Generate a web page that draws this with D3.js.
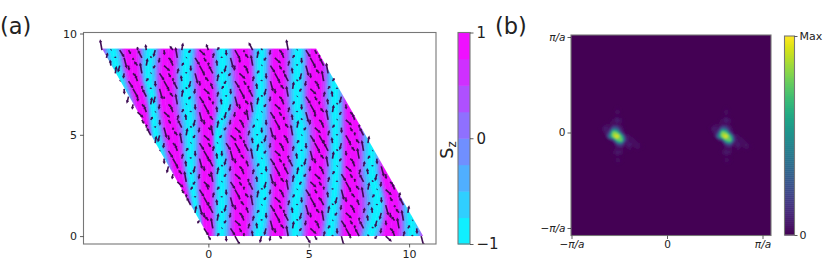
<!DOCTYPE html>
<html>
<head>
<meta charset="utf-8">
<script src="https://cdn.jsdelivr.net/npm/d3@7"></script>
<style>
    body { margin: 0; background: #fff; }
    text { font-family: "DejaVu Sans"; fill: #222; }
</style>
</head>
<body>
<svg id="fig" width="830" height="275"></svg>
<script>
var stripe_y = [9.26, 7.93, 6.7, 4.98, 3.25, 1.53, 0];

// x of each stripe centre at those rows, left to right. Even = magenta (Sz=+1), odd = cyan (Sz=-1)
var stripe_x = [
    [-5.67, -5.37, -4.98, -4.63, -4.28, -3.88, -3.53],
    [-4.78, -4.48, -4.13, -3.78, -3.38, -2.99, -2.64],
    [-3.88, -3.73, -3.38, -3.13, -2.89, -2.39, -1.89],
    [-2.89, -2.99, -2.79, -2.64, -2.14, -1.64, -1.14],
    [-1.99, -2.04, -2.14, -1.79, -1.54, -1.14, -0.80],
    [-1.04, -1.14, -1.04, -0.90, -0.90, -0.65, -0.40],
    [-0.15, -0.15, -0.05, 0, -0.05, -0.15, -0.05],
    [0.70, 0.70, 0.85, 0.45, 0.60, 0.65, 0.60],
    [1.69, 1.84, 1.84, 1.44, 1.59, 1.59, 1.59],
    [2.64, 2.59, 2.59, 2.44, 2.74, 2.74, 2.49],
    [3.48, 3.48, 3.48, 3.68, 3.58, 3.48, 3.48],
    [4.48, 4.43, 4.43, 4.58, 4.58, 4.33, 4.33],
    [5.37, 5.37, 5.32, 5.67, 5.42, 5.42, 5.22],
    [6.32, 6.32, 6.32, 6.32, 6.37, 6.22, 6.07],
    [7.16, 7.16, 7.16, 7.16, 7.06, 7.06, 7.06],
    [8.16, 8.16, 8.16, 8.16, 8.16, 8.46, 8.06],
    [9.05, 9.05, 9.05, 9.05, 8.91, 9.20, 9.05],
    [10.05, 10.05, 10.05, 10.05, 10.05, 10.05, 10.20],
    [11.04, 11.04, 11.04, 11.04, 11.04, 11.04, 11.04]
];

// outline of the sample
var sample_corners = [[-5.3, 9.26], [5.37, 9.26], [10.7, 0], [0, 0]];

// contour levels of the colour bar, and where each one sits between
// a magenta centre (0) and a cyan centre (1)
var sz_levels = [-1, -0.75, -0.5, -0.25, 0, 0.25, 0.5, 0.75, 1];
var level_position = [1, 0.82, 0.7, 0.62, 0.56, 0.5, 0.42, 0.3, 0];

// spin arrow per phase of the stripe (0 = magenta centre, .5 = cyan centre)
// clockwise degrees from up
var arrow_angle = [150, -20, -10, 10, 20, 195, 165, 150];
var arrow_length = [0.24, 0.34, 0.55, 0.38, 0.08, 0.36, 0.55, 0.52];
// arrows alternate long and short along the lattice, and lean differently
var sublattice_scale = [1, 0.5, 0.8];
var sublattice_twist = [0, 24, -18];
var lattice_size = 24;
var lattice_a = 0.4417;

// panel (b): position of the two spots, in units of pi/a
var peak_kx = [-0.52, 0.62];
var peak_ky = [-0.04, -0.04];

// intensity around one spot, rows from top to bottom, one cell = patch_step
var patch_step = 0.042;
var patch_col0 = 4;
var patch_row0 = 7;
var peak_patch = [
    [0, 0, 0, 0, .02, .005, 0, 0, 0, 0, 0],
    [0, 0, 0, .005, .05, .01, 0, 0, 0, 0, 0],
    [0, 0, 0, .005, .02, .005, 0, 0, 0, 0, 0],
    [0, 0, 0, .04, .11, .04, 0, 0, 0, 0, 0],
    [0, .02, .02, .03, .04, .02, 0, 0, 0, 0, 0],
    [.02, .1, .05, .3, .24, .06, .005, 0, 0, 0, 0],
    [.005, .05, .18, .82, .7, .14, .01, 0, 0, 0, 0],
    [0, .005, .42, .86, 1, .7, .1, .04, 0, 0, 0],
    [0, 0, .02, .12, .72, .82, .18, .03, .06, .01, 0],
    [0, 0, 0, .01, .16, .24, .04, .11, .03, .06, .01],
    [0, 0, 0, .01, .03, .03, .01, .04, .01, .04, .01],
    [0, 0, 0, .03, .09, .05, 0, .01, 0, 0, 0],
    [0, 0, 0, .005, .02, .01, 0, 0, 0, 0, 0],
    [0, 0, 0, 0, .05, .02, 0, 0, 0, 0, 0],
    [0, 0, 0, 0, .01, .005, 0, 0, 0, 0, 0]
];
var patch_thresholds = [.01, .02, .03, .045, .06, .08, .1, .13, .16, .2, .25, .3, .35, .4, .45, .5, .55, .6, .65, .7, .75, .8, .85, .9, .95];

var xy_ticks = [0, 5, 10];
var k_ticks = [-1, 0, 1];
var k_labels = ['−', '', ''];

var svg = d3.select('#fig');
var defs = svg.append('defs');
defs.append('filter').attr('id', 'soft').append('feGaussianBlur').attr('stdDeviation', 0.35);
defs.append('filter').attr('id', 'softer').append('feGaussianBlur').attr('stdDeviation', 0.85);

// ---- panel (a) ----
var x = d3.scaleLinear().domain([-6.22, 11.34]).range([83.5, 436]);
var y = d3.scaleLinear().domain([-0.39, 10.05]).range([244, 32.5]);

defs.append('clipPath').attr('id', 'sample-clip').append('polygon')
    .attr('points', sample_corners.map(c => x(c[0]) + ',' + y(c[1])).join(' '));
defs.append('clipPath').attr('id', 'axes-clip').append('rect')
    .attr('x', x.range()[0]).attr('y', y.range()[1])
    .attr('width', x.range()[1] - x.range()[0]).attr('height', y.range()[0] - y.range()[1]);

function cool(level) {
    return d3.interpolateRgb('#00ffff', '#ff00ff')((level + 1) / 2);
}

var stripe_group = svg.append('g').attr('clip-path', 'url(#sample-clip)')
    .append('g').attr('filter', 'url(#soft)');

// between two neighbouring stripe centres, one filled band per contour level
d3.pairs(d3.range(stripe_x.length)).forEach(function (pair) {
    var k = pair[0];
    var left = stripe_x[k], right = stripe_x[k + 1];
    d3.range(sz_levels.length - 1).forEach(function (b) {
        var t0 = level_position[b], t1 = level_position[b + 1];
        if (k % 2 == 1) { t0 = 1 - t0; t1 = 1 - t1; }
        var area = d3.area()
            .y(i => y(stripe_y[i]))
            .x0(i => x(left[i] + (right[i] - left[i]) * t0))
            .x1(i => x(left[i] + (right[i] - left[i]) * t1))
            .curve(d3.curveCatmullRom);
        var color = cool((sz_levels[b] + sz_levels[b + 1]) / 2);
        stripe_group.append('path')
            .attr('d', area(d3.range(stripe_y.length)))
            .attr('fill', color)
            .attr('stroke', color)
            .attr('stroke-width', 0.6);
    });
});

// phase of a lattice site inside the stripe pattern
function phase_at(px, py) {
    var row = stripe_x.map(s => d3.scaleLinear().domain(stripe_y).range(s)(py));
    for (var k = 0; k < row.length - 1; k++) {
        if (px >= row[k] && px < row[k + 1]) {
            var t = (px - row[k]) / (row[k + 1] - row[k]);
            return (k + t) / 2 % 1;
        }
    }
    return 0;
}

var arrow_group = svg.append('g').attr('clip-path', 'url(#axes-clip)')
    .append('g').attr('filter', 'url(#soft)');

d3.range(lattice_size + 1).forEach(function (j) {
    d3.range(lattice_size + 1).forEach(function (i) {
        var px = (i - j / 2) * lattice_a;
        var py = j * lattice_a * Math.sqrt(3) / 2;
        var bin = Math.round(phase_at(px, py) * arrow_angle.length) % arrow_angle.length;
        var sub = (i + 2 * j) % 3;
        var a = (arrow_angle[bin] + sublattice_twist[sub]) * Math.PI / 180;
        var len = arrow_length[bin] * sublattice_scale[sub];

        var x0 = x(px), y0 = y(py);
        var x1 = x(px + len * Math.sin(a)), y1 = y(py + len * Math.cos(a));
        var dx = x1 - x0, dy = y1 - y0;
        var l = Math.sqrt(dx * dx + dy * dy);
        var ux = dx / l, uy = dy / l;
        var head = Math.min(3.2, l * 0.5);

        var p = d3.path();
        p.moveTo(x1, y1);
        p.lineTo(x1 - ux * head - uy * 1.6, y1 - uy * head + ux * 1.6);
        p.lineTo(x1 - ux * head + uy * 1.6, y1 - uy * head - ux * 1.6);
        p.closePath();

        arrow_group.append('line')
            .attr('x1', x0).attr('y1', y0)
            .attr('x2', x1 - ux * head * 0.7).attr('y2', y1 - uy * head * 0.7)
            .attr('stroke', '#3d0a52')
            .attr('stroke-width', 1.6);
        arrow_group.append('path').attr('d', p.toString()).attr('fill', '#3d0a52');
    });
});

function style_axis(g, size) {
    g.selectAll('.domain').remove();
    g.selectAll('line').attr('stroke', '#333').attr('stroke-width', 0.8);
    g.selectAll('text').attr('font-size', size).attr('fill', '#222').attr('font-family', 'DejaVu Sans');
}

function frame(x0, y0, w, h) {
    svg.append('rect').attr('x', x0).attr('y', y0).attr('width', w).attr('height', h)
        .attr('fill', 'none').attr('stroke', '#777').attr('stroke-width', 1.1);
}

frame(x.range()[0], y.range()[1], x.range()[1] - x.range()[0], y.range()[0] - y.range()[1]);

svg.append('g').attr('transform', 'translate(0,244)')
    .call(d3.axisBottom(x).tickValues(xy_ticks).tickSize(3.5).tickPadding(3).tickFormat(d3.format('d')))
    .call(style_axis, 11);
svg.append('g').attr('transform', 'translate(83.5,0)')
    .call(d3.axisLeft(y).tickValues(xy_ticks).tickSize(3.5).tickPadding(3).tickFormat(d3.format('d')))
    .call(style_axis, 11);

svg.append('text').attr('x', 0).attr('y', 34).attr('font-size', 22.5).text('(a)');

// colour bar of Sz
var sz_bar = d3.scaleLinear().domain([-1, 1]).range([244, 32.5]);
d3.pairs(sz_levels).forEach(function (band) {
    svg.append('rect')
        .attr('x', 458).attr('width', 12)
        .attr('y', sz_bar(band[1])).attr('height', sz_bar(band[0]) - sz_bar(band[1]) + 0.5)
        .attr('fill', cool((band[0] + band[1]) / 2));
});
frame(458, 32.5, 12, 211.5);
svg.append('g').attr('transform', 'translate(470,0)')
    .call(d3.axisRight(sz_bar).tickValues([-1, 0, 1]).tickSize(3.5).tickPadding(3).tickFormat(d3.format('d')))
    .call(style_axis, 15);

var sz_label = svg.append('text')
    .attr('transform', 'translate(453,150) rotate(-90)')
    .attr('text-anchor', 'middle')
    .attr('font-size', 17.5);
sz_label.append('tspan').text('S');
sz_label.append('tspan').attr('font-size', 12).attr('dy', 3).text('z');

// ---- panel (b) ----
var kx = d3.scaleLinear().domain([-1, 1]).range([571.5, 762.5]);
var ky = d3.scaleLinear().domain([-1, 1]).range([228, 37]);
var box = { x: 571, y: 35, w: 200, h: 200.5 };

defs.append('clipPath').attr('id', 'map-clip').append('rect')
    .attr('x', box.x).attr('y', box.y).attr('width', box.w).attr('height', box.h);

var map = svg.append('g').attr('clip-path', 'url(#map-clip)');
map.append('rect').attr('x', box.x).attr('y', box.y).attr('width', box.w).attr('height', box.h)
    .attr('fill', d3.interpolateViridis(0));

var patch_rows = peak_patch.length, patch_cols = peak_patch[0].length;
var contours = d3.contours().size([patch_cols, patch_rows]).thresholds(patch_thresholds)(d3.merge(peak_patch));
var map_group = map.append('g').attr('filter', 'url(#softer)');

peak_kx.forEach(function (center_x, n) {
    var center_y = peak_ky[n];
    var to_map = d3.geoPath(d3.geoTransform({
        point: function (gx, gy) {
            this.stream.point(
                kx(center_x + (gx - 0.5 - patch_col0) * patch_step),
                ky(center_y - (gy - 0.5 - patch_row0) * patch_step)
            );
        }
    }));
    map_group.selectAll(null).data(contours).enter().append('path')
        .attr('d', to_map)
        .attr('fill', d => d3.interpolateViridis(Math.min(1, d.value * 1.05)));
});

frame(box.x, box.y, box.w, box.h);

function pi_label(g) {
    g.selectAll('.tick text').each(function (d, i) {
        var t = d3.select(this).text(null);
        if (d == 0) { t.text('0'); return; }
        t.append('tspan').text(k_labels[i]);
        t.append('tspan').attr('font-style', 'italic').text('π/a');
    });
}

svg.append('g').attr('transform', 'translate(0,235.5)')
    .call(d3.axisBottom(kx).tickValues(k_ticks).tickSize(3.5).tickPadding(2))
    .call(style_axis, 10.5)
    .call(pi_label);
svg.append('g').attr('transform', 'translate(571,0)')
    .call(d3.axisLeft(ky).tickValues(k_ticks).tickSize(3.5).tickPadding(2))
    .call(style_axis, 10.5)
    .call(pi_label);

svg.append('text').attr('x', 495).attr('y', 34).attr('font-size', 22.5).text('(b)');

// colour bar of the intensity
var max_bar = d3.scaleLinear().domain([0, 1]).range([235, 36]);
var bar_steps = d3.range(0, 1, 0.01);
svg.append('g').selectAll('rect').data(bar_steps).enter().append('rect')
    .attr('x', 784.5).attr('width', 10)
    .attr('y', d => max_bar(d + 0.01))
    .attr('height', d => max_bar(d) - max_bar(d + 0.01) + 0.5)
    .attr('fill', d => d3.interpolateViridis(d + 0.005));
frame(784.5, 36, 10, 199);
svg.append('g').attr('transform', 'translate(794.5,0)')
    .call(d3.axisRight(max_bar).tickValues([0, 1]).tickSize(3).tickPadding(2)
        .tickFormat(d => d == 1 ? 'Max' : '0'))
    .call(style_axis, 11);
</script>
</body>
</html>
